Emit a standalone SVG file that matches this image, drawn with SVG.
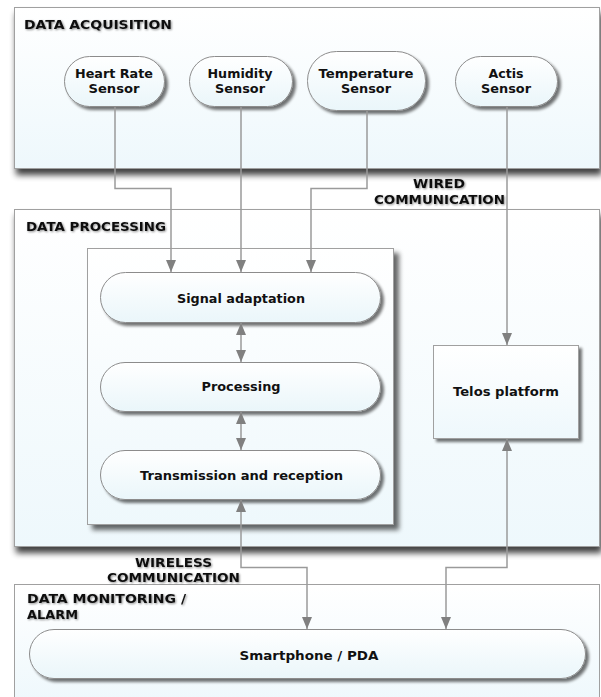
<svg xmlns="http://www.w3.org/2000/svg" width="601" height="697" viewBox="0 0 601 697">
<style>
  text { font-family: "DejaVu Sans", Verdana, sans-serif; font-weight: bold; font-size: 12px; fill: #111; }
  .title { filter: url(#glow); }
  .mid { text-anchor: middle; }
  .panel { fill: url(#panelGrad); stroke: #a0a0a0; stroke-width: 1; }
  .panelShadow { filter: url(#panelShadow); }
  .node { fill: url(#nodeGrad); stroke: #8c8c8c; stroke-width: 1; filter: url(#nodeShadow); }
  .box { fill: url(#panelGrad); stroke: #a0a0a0; stroke-width: 1; filter: url(#boxShadow); }
  .conn { fill: none; stroke: #9a9a9a; stroke-width: 1.5; }
  .arrow { marker-end: url(#arr); }
  .both { marker-start: url(#arr); marker-end: url(#arr); }
</style>
<defs>
  <linearGradient id="panelGrad" x1="0" y1="0" x2="0" y2="1">
    <stop offset="0" stop-color="#ffffff"/>
    <stop offset="1" stop-color="#eef8fc"/>
  </linearGradient>
  <linearGradient id="nodeGrad" x1="0" y1="0" x2="0" y2="1">
    <stop offset="0" stop-color="#ffffff"/>
    <stop offset="1" stop-color="#eaf6fa"/>
  </linearGradient>
  <filter id="panelShadow" x="-5%" y="-5%" width="110%" height="125%">
    <feGaussianBlur in="SourceAlpha" stdDeviation="3"/>
    <feOffset dx="2" dy="6" result="b"/>
    <feComponentTransfer><feFuncA type="linear" slope="0.75"/></feComponentTransfer>
    <feMerge><feMergeNode/><feMergeNode in="SourceGraphic"/></feMerge>
  </filter>
  <filter id="nodeShadow" x="-10%" y="-10%" width="125%" height="140%">
    <feGaussianBlur in="SourceAlpha" stdDeviation="1.5"/>
    <feOffset dx="3" dy="3"/>
    <feComponentTransfer><feFuncA type="linear" slope="0.55"/></feComponentTransfer>
    <feMerge><feMergeNode/><feMergeNode in="SourceGraphic"/></feMerge>
  </filter>
  <filter id="boxShadow" x="-10%" y="-10%" width="125%" height="125%">
    <feGaussianBlur in="SourceAlpha" stdDeviation="2.5"/>
    <feOffset dx="5" dy="5"/>
    <feComponentTransfer><feFuncA type="linear" slope="0.6"/></feComponentTransfer>
    <feMerge><feMergeNode/><feMergeNode in="SourceGraphic"/></feMerge>
  </filter>
  <filter id="glow" x="-10%" y="-40%" width="120%" height="180%">
    <feGaussianBlur in="SourceAlpha" stdDeviation="1.2"/>
    <feOffset dx="1" dy="1"/>
    <feComponentTransfer><feFuncA type="linear" slope="0.45"/></feComponentTransfer>
    <feMerge><feMergeNode/><feMergeNode in="SourceGraphic"/></feMerge>
  </filter>
  <marker id="arr" viewBox="0 0 12 10" refX="12" refY="5" markerWidth="12" markerHeight="10" markerUnits="userSpaceOnUse" orient="auto-start-reverse">
    <path d="M0,0 L12,5 L0,10 z" fill="#808080"/>
  </marker>
</defs>

<!-- Panels -->
<g id="panel-acquisition">
  <rect class="panel panelShadow" x="14.5" y="7.5" width="585" height="161"/>
  <text class="title" x="24" y="29" textLength="148" lengthAdjust="spacingAndGlyphs">DATA ACQUISITION</text>
</g>
<g id="panel-processing">
  <rect class="panel panelShadow" x="14.5" y="209.5" width="585" height="337"/>
  <text class="title" x="26" y="231" textLength="140" lengthAdjust="spacingAndGlyphs">DATA PROCESSING</text>
</g>
<g id="panel-monitoring">
  <rect class="panel" x="14.5" y="584.5" width="585" height="120"/>
  <text class="title" x="27" y="603" textLength="159" lengthAdjust="spacingAndGlyphs">DATA MONITORING /</text>
  <text class="title" x="27" y="619" textLength="51" lengthAdjust="spacingAndGlyphs">ALARM</text>
</g>

<!-- Nodes -->
<g id="heart-rate-sensor">
  <rect class="node" x="64.5" y="56.5" width="100" height="50" rx="25"/>
  <text class="mid" x="114" y="78" textLength="78" lengthAdjust="spacingAndGlyphs">Heart Rate</text>
  <text class="mid" x="114" y="93" textLength="51" lengthAdjust="spacingAndGlyphs">Sensor</text>
</g>
<g id="humidity-sensor">
  <rect class="node" x="189.5" y="56.5" width="103" height="50" rx="25"/>
  <text class="mid" x="240" y="78" textLength="65" lengthAdjust="spacingAndGlyphs">Humidity</text>
  <text class="mid" x="240" y="93" textLength="50" lengthAdjust="spacingAndGlyphs">Sensor</text>
</g>
<g id="temperature-sensor">
  <rect class="node" x="307.5" y="51.5" width="118" height="59" rx="29"/>
  <text class="mid" x="366" y="78" textLength="95" lengthAdjust="spacingAndGlyphs">Temperature</text>
  <text class="mid" x="366" y="93" textLength="50" lengthAdjust="spacingAndGlyphs">Sensor</text>
</g>
<g id="actis-sensor">
  <rect class="node" x="455.5" y="56.5" width="102" height="50" rx="25"/>
  <text class="mid" x="506" y="78" textLength="35" lengthAdjust="spacingAndGlyphs">Actis</text>
  <text class="mid" x="506" y="93" textLength="50" lengthAdjust="spacingAndGlyphs">Sensor</text>
</g>
<g id="processing-unit">
  <rect class="box" x="87.5" y="248.5" width="306" height="276"/>
</g>
<g id="signal-adaptation">
  <rect class="node" x="100.5" y="272.5" width="280" height="50" rx="25"/>
  <text class="mid" x="241" y="303" textLength="128" lengthAdjust="spacingAndGlyphs">Signal adaptation</text>
</g>
<g id="processing">
  <rect class="node" x="100.5" y="362.5" width="280" height="49" rx="24.5"/>
  <text class="mid" x="241" y="391" textLength="79" lengthAdjust="spacingAndGlyphs">Processing</text>
</g>
<g id="transmission-reception">
  <rect class="node" x="100.5" y="450.5" width="280" height="49" rx="24.5"/>
  <text class="mid" x="241.5" y="480" textLength="203" lengthAdjust="spacingAndGlyphs">Transmission and reception</text>
</g>
<g id="telos-platform">
  <rect class="box" x="433.5" y="345.5" width="145" height="93" style="filter:url(#nodeShadow)"/>
  <text class="mid" x="506" y="396" textLength="106" lengthAdjust="spacingAndGlyphs">Telos platform</text>
</g>
<g id="smartphone-pda">
  <rect class="node" x="29.5" y="629.5" width="556" height="49" rx="24.5"/>
  <text class="mid" x="309" y="660" textLength="139" lengthAdjust="spacingAndGlyphs">Smartphone / PDA</text>
</g>

<!-- Connector labels -->
<g id="label-wired">
  <text class="mid title" x="439" y="188" textLength="52" lengthAdjust="spacingAndGlyphs">WIRED</text>
  <text class="mid title" x="439.5" y="204" textLength="131" lengthAdjust="spacingAndGlyphs">COMMUNICATION</text>
</g>
<g id="label-wireless">
  <text class="mid title" x="173.5" y="567" textLength="77" lengthAdjust="spacingAndGlyphs">WIRELESS</text>
  <text class="mid title" x="173.5" y="582" textLength="133" lengthAdjust="spacingAndGlyphs">COMMUNICATION</text>
</g>

<!-- Connectors -->
<g id="connectors">
  <path class="conn arrow" d="M115 107 V188.5 H171 V272"/>
  <path class="conn arrow" d="M241 107 V272"/>
  <path class="conn arrow" d="M367 111 V188.5 H311 V272"/>
  <path class="conn arrow" d="M507 107 V345"/>
  <path class="conn both" d="M241 323 V362"/>
  <path class="conn both" d="M241 412 V450"/>
  <path class="conn both" d="M241 500 V567.5 H307 V629"/>
  <path class="conn both" d="M507 439 V567.5 H446 V629"/>
</g>
</svg>
